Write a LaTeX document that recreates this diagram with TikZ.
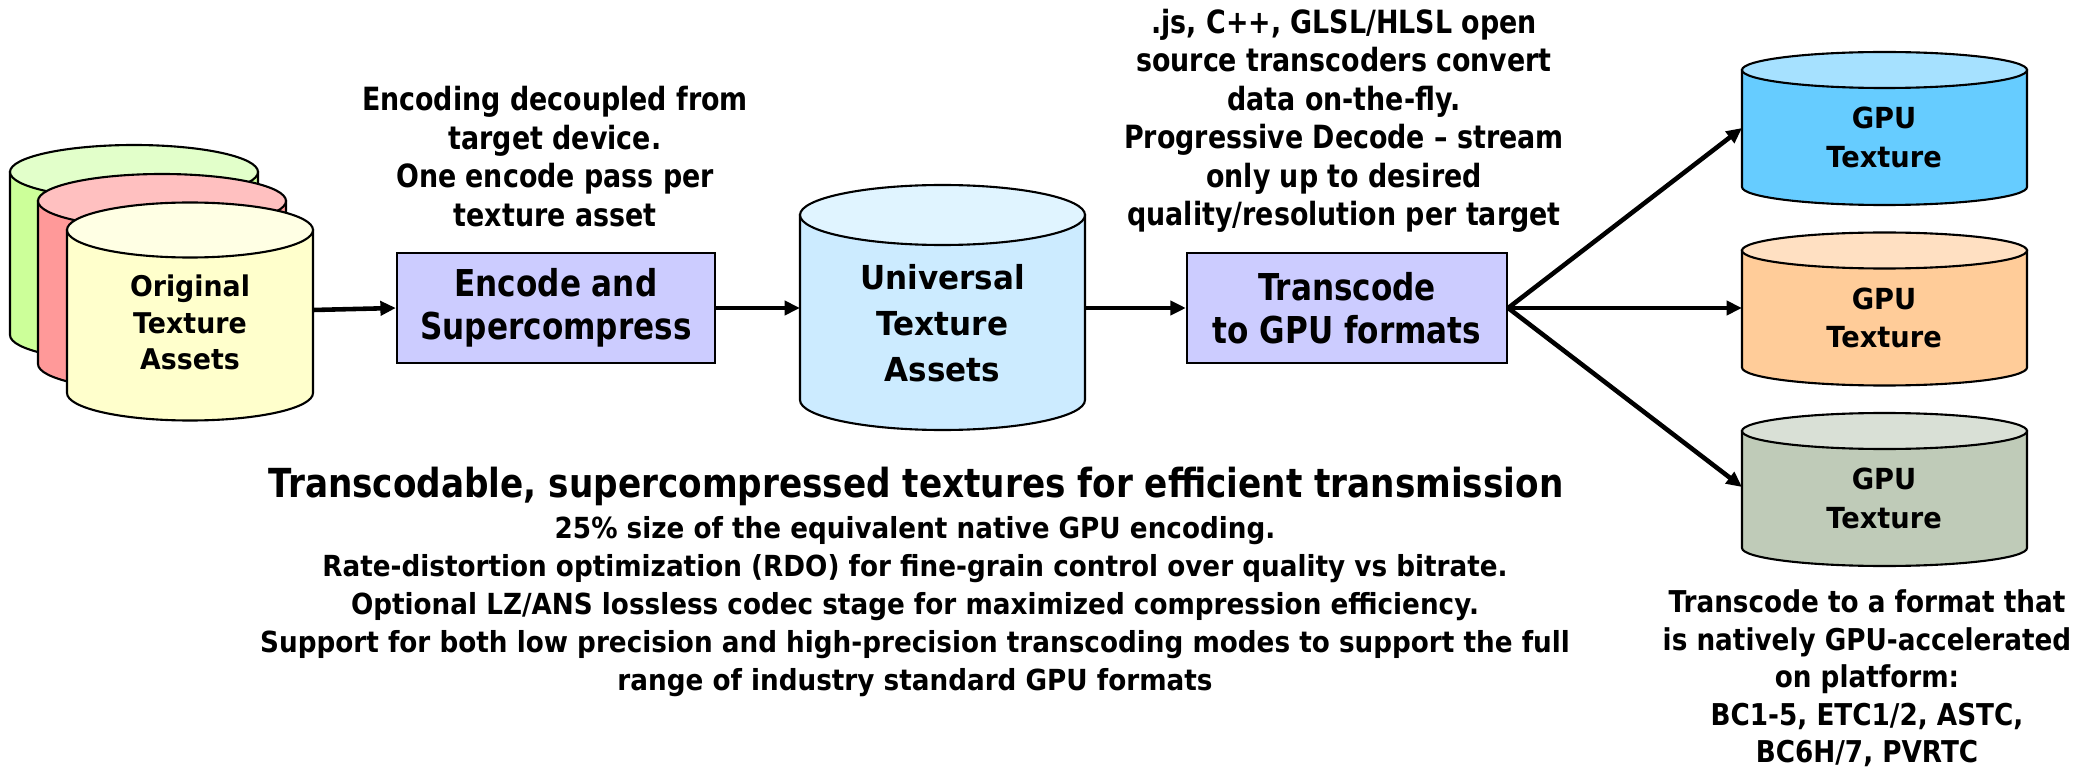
\documentclass[tikz,border=0pt]{standalone}
\usepackage{fontspec}
\setmainfont{DejaVu Sans}[FakeStretch=0.84]
\newfontfamily\cylfont{DejaVu Sans}[FakeStretch=0.94]
\newfontfamily\detfont{DejaVu Sans}[FakeStretch=0.905]
\newfontfamily\headfont{DejaVu Sans}[FakeStretch=0.856]
\newfontfamily\fmtfont{DejaVu Sans}[FakeStretch=0.875]
\usetikzlibrary{arrows.meta}
\definecolor{grside}{HTML}{CCFF99}
\definecolor{grtop}{HTML}{E2FFCA}
\definecolor{rdside}{HTML}{FF9999}
\definecolor{rdtop}{HTML}{FFC0C0}
\definecolor{ylside}{HTML}{FFFFCC}
\definecolor{yltop}{HTML}{FFFFE4}
\definecolor{unside}{HTML}{CCEBFF}
\definecolor{untop}{HTML}{E0F4FF}
\definecolor{boxfill}{HTML}{CCCCFF}
\definecolor{blside}{HTML}{66CCFF}
\definecolor{bltop}{HTML}{A6E1FF}
\definecolor{orside}{HTML}{FFCC99}
\definecolor{ortop}{HTML}{FFE0C2}
\definecolor{gyside}{HTML}{BFCBB8}
\definecolor{gytop}{HTML}{D9E0D6}
\newcommand\drawcyl[7]{%
  \filldraw[cylline, fill=#6] ({#1-#4},#2) -- ({#1-#4},#3)
    arc[start angle=180, end angle=0, x radius=#4, y radius=#5] -- ({#1+#4},#2) -- cycle;
  \filldraw[cylline, fill=#7] (#1,#2) ellipse[x radius=#4, y radius=#5];
}
\begin{document}
\begin{tikzpicture}[x=0.01cm, y=-0.01cm,
  cylline/.style={draw=black, line width=0.6pt},
  txt/.style={inner sep=0pt, align=center, text=black},
  annot/.style={txt, font=\fontsize{9.1}{10.95}\selectfont\bfseries},
  boxlabel/.style={font=\fontsize{10.53}{12.23}\selectfont\bfseries},
  procbox/.style={boxlabel, align=center, draw=black, line width=0.6pt, fill=boxfill,
    minimum height=1.1cm, inner sep=0pt},
  gpulabel/.style={txt, font=\cylfont\fontsize{8.25}{10.95}\selectfont\bfseries},
  arr/.style={line width=1.3pt, -{Triangle[length=4.4pt, width=4pt]}}
]
\useasboundingbox (0,0) rectangle (2090,773);
\fill[white] (0,0) rectangle (2090,773);

% original texture assets stack
\drawcyl{134}{172}{335}{124}{27}{grside}{grtop}
\drawcyl{162}{201}{364}{124}{27}{rdside}{rdtop}
\drawcyl{190}{230}{393}{123}{27.5}{ylside}{yltop}
\node[txt, font=\cylfont\fontsize{8.11}{10.39}\selectfont\bfseries] (orig) at (190,322.7) {Original\\Texture\\Assets};
\coordinate (origE) at (313,310);

% encode box
\node[procbox, minimum width=3.18cm] (enc) at (556,308) {Encode and\\Supercompress};
\node[annot] (encnote) at (555,156.75) {Encoding decoupled from\\target device.\\One encode pass per\\texture asset};

% universal texture assets
\drawcyl{942.5}{215}{400}{142.5}{30}{unside}{untop}
\node[txt, font=\cylfont\fontsize{9.39}{13.09}\selectfont\bfseries] (univ) at (942.5,323.5) {Universal\\Texture\\Assets};
\coordinate (univW) at (800,308);
\coordinate (univE) at (1085,308);

% transcode box
\node[procbox, minimum width=3.2cm] (trans) at (1347,308) {Transcode\\to GPU formats};
\node[annot] (transnote) at (1344,120.75) {.js, C++, GLSL/HLSL open\\source transcoders convert\\data on-the-fly.\\Progressive Decode – stream\\only up to desired\\quality/resolution per target};

% GPU textures
\drawcyl{1884.5}{70}{187}{142.5}{18}{blside}{bltop}
\drawcyl{1884.5}{250.5}{367.5}{142.5}{18}{orside}{ortop}
\drawcyl{1884.5}{431}{548}{142.5}{18}{gyside}{gytop}
\node[gpulabel] (gpu1) at (1884,137.25) {GPU\\Texture};
\node[gpulabel] (gpu2) at (1884,317.75) {GPU\\Texture};
\node[gpulabel] (gpu3) at (1884,498.25) {GPU\\Texture};
\coordinate (gpu1W) at (1742,128);
\coordinate (gpu2W) at (1742,308);
\coordinate (gpu3W) at (1742,487);

% connectors
\draw[arr] (origE) -- (enc.west);
\draw[arr] (enc.east) -- (univW);
\draw[arr] (univE) -- (trans.west);
\draw[arr] (trans.east) -- (gpu1W);
\draw[arr] (trans.east) -- (gpu2W);
\draw[arr] (trans.east) -- (gpu3W);

% bottom texts
\node[txt, anchor=base, font=\headfont\fontsize{11.38}{13.6}\selectfont\bfseries] (title) at (916,498) {Transcodable, supercompressed textures for efficient transmission};
\node[txt, font=\detfont\fontsize{8.25}{10.81}\selectfont\bfseries] (details) at (915,606.5) {25\% size of the equivalent native GPU encoding.\\Rate-distortion optimization (RDO) for fine-grain control over quality vs bitrate.\\Optional LZ/ANS lossless codec stage for maximized compression efficiency.\\Support for both low precision and high-precision transcoding modes to support the full\\range of industry standard GPU formats};
\node[txt, font=\fmtfont\fontsize{8.54}{10.67}\selectfont\bfseries] (formats) at (1867,678.5) {Transcode to a format that\\is natively GPU-accelerated\\on platform:\\BC1-5, ETC1/2, ASTC,\\BC6H/7, PVRTC};
\end{tikzpicture}
\end{document}
